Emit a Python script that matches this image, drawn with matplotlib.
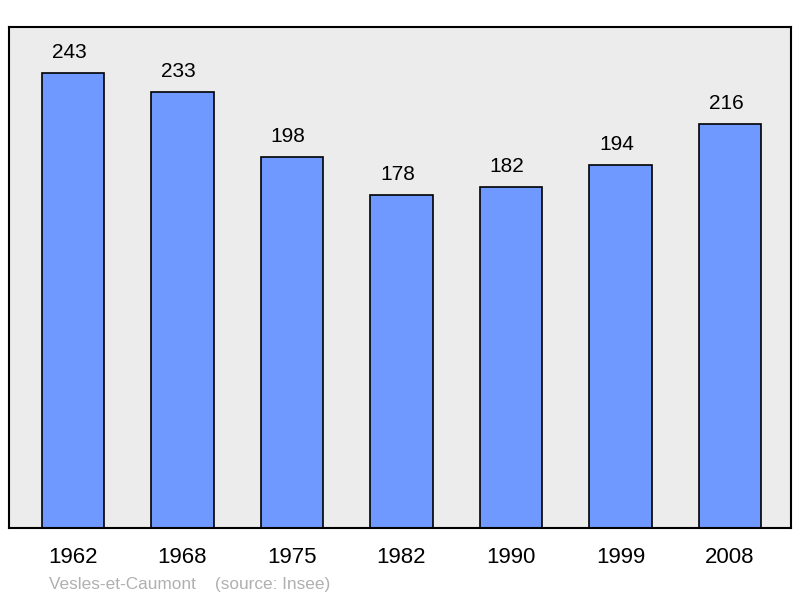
import matplotlib
matplotlib.use("Agg")
import matplotlib.pyplot as plt

years = ["1962", "1968", "1975", "1982", "1990", "1999", "2008"]
population = [243, 233, 198, 178, 182, 194, 216]

plt.rcParams['font.family'] = ['Liberation Sans', 'DejaVu Sans']

W, H = 800, 598
fig = plt.figure(figsize=(W / 100, H / 100), dpi=100)
ax = fig.add_axes([9 / W, (H - 528) / H, 782 / W, (528 - 27) / H])
ax.set_facecolor('#ececec')

x = list(range(len(years)))
ax.bar(x, population, width=0.57, color='#7099ff', edgecolor='black', linewidth=1.2, zorder=2)
for xi, v in zip(x, population):
    ax.annotate(str(v), (xi, v), xytext=(-4, 11), textcoords='offset pixels',
                ha='center', va='bottom', fontsize=15, color='black')

ax.set_xlim(-0.584, 6.557)
ax.set_ylim(0, 267.6)
ax.set_yticks([])
ax.set_xticks(x)
ax.set_xticklabels(years, fontsize=16)
ax.tick_params(axis='x', length=0, pad=14)
for s in ax.spines.values():
    s.set_linewidth(1.5)
    s.set_color('black')

fig.text(49 / W, 1 - 584 / H, "Vesles-et-Caumont    (source: Insee)", fontsize=12.4,
         color='#b0b0b0', ha='left', va='center')

fig.savefig('out.png', dpi=100)
